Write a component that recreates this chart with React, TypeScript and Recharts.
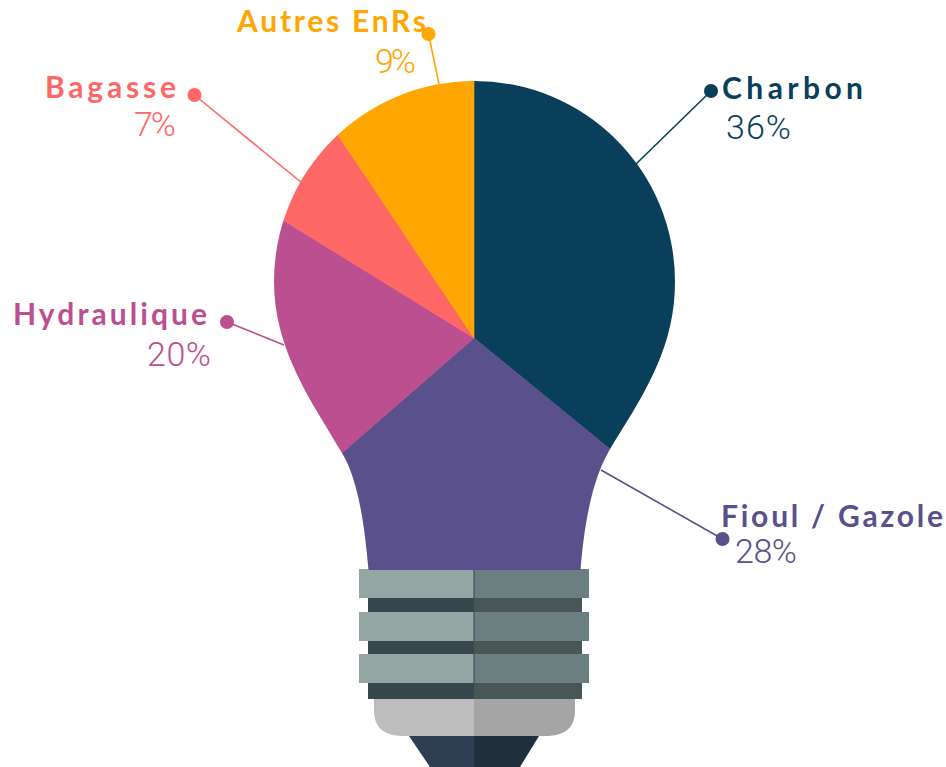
import { Cell, Pie, PieChart } from "recharts";

const categories = ["Charbon", "Fioul / Gazole", "Hydraulique", "Bagasse", "Autres EnRs"];
// slice sizes as drawn in the picture, the labels show them rounded
const shares = [35.9, 27.7, 20.2, 6.8, 9.4];
const colors = ["#0A3F5C", "#59508C", "#BB4F8F", "#FF6666", "#FFA600"];

const tableData = categories.map((name, i) => ({ name, value: shares[i] }));

// callout placement: leader start on the bulb, dot, name (x, baseline, width), percent (x, baseline, width)
const callouts = [
  { from: [635, 165], dot: [711, 91], name: [722, 99, 141], pct: [726, 139, 65] },
  { from: [601, 470], dot: [722.5, 539], name: [721, 527, 222], pct: [735, 563, 62] },
  { from: [284, 345], dot: [227, 322], name: [13, 325, 194], pct: [147, 366, 64] },
  { from: [302, 183], dot: [194.5, 95], name: [45, 98, 131], pct: [134, 136, 42] },
  { from: [439, 84], dot: [428.5, 34], name: [237, 32, 189], pct: [375, 73, 41] },
];

const BULB =
  "M474.5 81 A200.5 200.5 0 0 1 675 281.5 C675 345 647 390 613 444 C594 474 585 515 580.5 570 " +
  "L368.5 570 C364 518 357 478 342 453 C312 402 274 350 274 281.5 A200.5 200.5 0 0 1 474.5 81 Z";

const font = "Lato, 'Open Sans', sans-serif";

function renderCallout(props: any) {
  const { index, name, percent } = props;
  const c = callouts[index];
  const color = colors[index];
  return (
    <g key={name}>
      <line x1={c.from[0]} y1={c.from[1]} x2={c.dot[0]} y2={c.dot[1]} stroke={color} strokeWidth={1.6} />
      <circle cx={c.dot[0]} cy={c.dot[1]} r={7} fill={color} />
      <text
        x={c.name[0]}
        y={c.name[1]}
        textLength={c.name[2]}
        lengthAdjust="spacing"
        fill={color}
        fontFamily={font}
        fontWeight={700}
        fontSize={30}
      >
        {name}
      </text>
      <text
        x={c.pct[0]}
        y={c.pct[1]}
        textLength={c.pct[2]}
        lengthAdjust="spacing"
        fill={color}
        fontFamily="Roboto, sans-serif"
        fontWeight={300}
        fontSize={34}
      >
        {`${Math.round(percent * 100)}%`}
      </text>
    </g>
  );
}

function Socket() {
  const bands = [569, 612, 654];
  const threads = [
    [598, 14],
    [641, 13],
    [683, 16],
  ];
  return (
    <g>
      {threads.map(([y, h]) => (
        <g key={y}>
          <rect x={368} y={y} width={106} height={h} fill="#38474D" />
          <rect x={474} y={y} width={108} height={h} fill="#485656" />
        </g>
      ))}
      {bands.map((y) => (
        <g key={y}>
          <rect x={359} y={y} width={115} height={29} fill="#95A5A3" />
          <rect x={474} y={y} width={115} height={29} fill="#6B7F80" />
          <rect x={473.5} y={y} width={1} height={29} fill="#38474D" />
        </g>
      ))}
      <path d="M374 699 L474 699 L474 736 L404 736 C384 736 374 728 374 710 Z" fill="#BDBDBD" />
      <path d="M474 699 L575 699 L575 710 C575 728 565 736 545 736 L474 736 Z" fill="#A5A5A5" />
      <path d="M409 736 L474 736 L474 767 L430 767 Z" fill="#2E3F53" />
      <path d="M474 736 L539 736 L520 767 L474 767 Z" fill="#212F3D" />
    </g>
  );
}

export default function App() {
  return (
    <div style={{ position: "absolute", left: 0, top: 0 }}>
      <PieChart width={946} height={767} margin={{ top: 0, right: 0, bottom: 0, left: 0 }}>
        <defs>
          <clipPath id="bulb" clipPathUnits="userSpaceOnUse">
            <path d={BULB} />
          </clipPath>
        </defs>
        <Socket />
        <Pie
          data={tableData}
          dataKey="value"
          nameKey="name"
          cx={474}
          cy={338}
          innerRadius={0}
          outerRadius={340}
          startAngle={90}
          endAngle={-270}
          label={renderCallout}
          labelLine={false}
          isAnimationActive={false}
        >
          {tableData.map((d, i) => (
            <Cell key={d.name} fill={colors[i]} stroke={colors[i]} strokeWidth={0.6} clipPath="url(#bulb)" />
          ))}
        </Pie>
      </PieChart>
    </div>
  );
}
